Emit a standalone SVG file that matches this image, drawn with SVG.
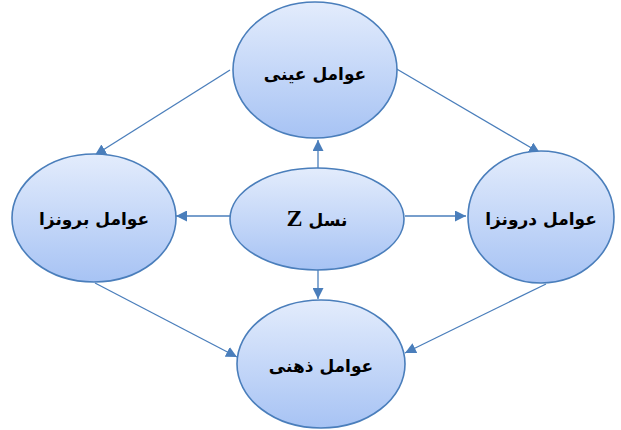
<svg xmlns="http://www.w3.org/2000/svg" width="621" height="430" viewBox="0 0 621 430">
<style>
.node{fill:url(#g);stroke:#4a7ebb;stroke-width:1.6}
.lbl{font-family:"DejaVu Sans",sans-serif;font-weight:bold;font-size:17px;fill:#000;text-anchor:middle;direction:rtl}
.edge{stroke:#4a7ebb;stroke-width:1.3;fill:none;marker-end:url(#a)}
</style>
<defs>
<linearGradient id="g" x1="0" y1="0" x2="0" y2="1">
<stop offset="0" stop-color="#e3ecfc"/>
<stop offset="1" stop-color="#a7c3f4"/>
</linearGradient>
<marker id="a" viewBox="0 0 10 10" refX="10" refY="5" markerWidth="11" markerHeight="11" markerUnits="userSpaceOnUse" orient="auto">
<path d="M0,0 L10,5 L0,10 Z" fill="#4a7ebb"/>
</marker>
</defs>
<g id="connectors">
<line class="edge" x1="230" y1="70" x2="95" y2="155"/>
<line class="edge" x1="395" y1="68" x2="540" y2="153"/>
<line class="edge" x1="318" y1="168" x2="318" y2="140"/>
<line class="edge" x1="230" y1="216" x2="176" y2="216"/>
<line class="edge" x1="405" y1="216" x2="466" y2="216"/>
<line class="edge" x1="318" y1="270" x2="318" y2="299"/>
<line class="edge" x1="95" y1="283" x2="237" y2="357"/>
<line class="edge" x1="546" y1="284" x2="405" y2="353"/>
</g>
<g id="n-top">
<ellipse class="node" cx="315" cy="70" rx="82" ry="68"/>
<text class="lbl" x="315" y="80">عوامل عینی</text>
</g>
<g id="n-left">
<ellipse class="node" cx="94" cy="218" rx="82" ry="64"/>
<text class="lbl" x="94" y="225">عوامل برونزا</text>
</g>
<g id="n-center">
<ellipse class="node" cx="317" cy="219" rx="87" ry="51"/>
<text class="lbl" x="317" y="226">نسل <tspan font-family="'Liberation Serif',serif" font-size="24px">Z</tspan></text>
</g>
<g id="n-right">
<ellipse class="node" cx="541" cy="217" rx="73" ry="66"/>
<text class="lbl" x="541" y="225">عوامل درونزا</text>
</g>
<g id="n-bottom">
<ellipse class="node" cx="321" cy="364" rx="84" ry="64"/>
<text class="lbl" x="321" y="372">عوامل ذهنی</text>
</g>
</svg>
